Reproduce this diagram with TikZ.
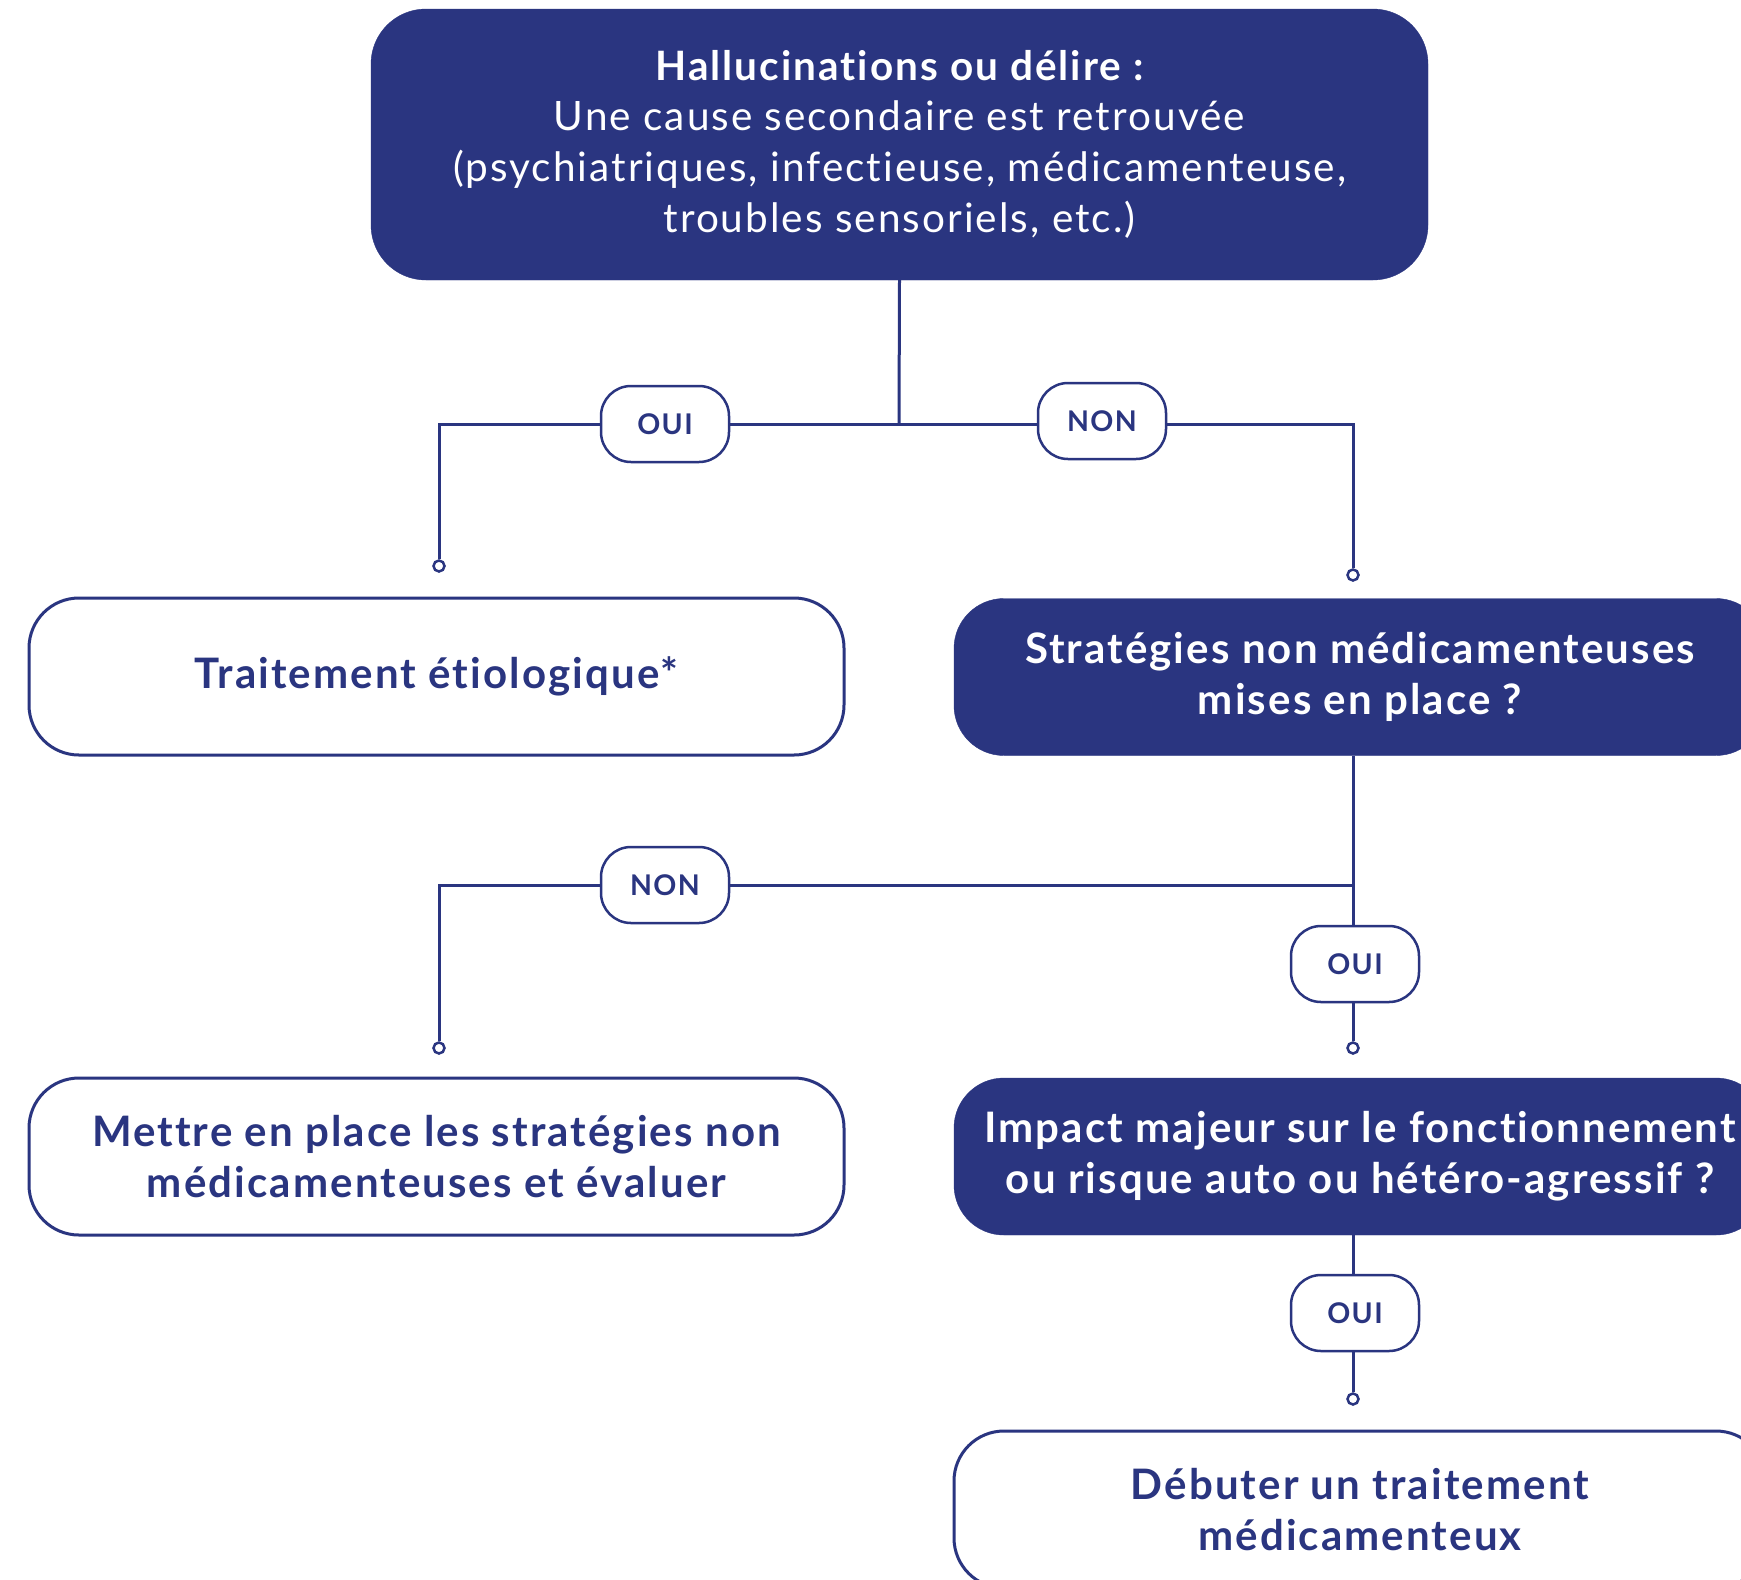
\documentclass[tikz,border=0pt]{standalone}
\usepackage{fontspec}
\setmainfont{Lato}
\newfontfamily\boxfont[LetterSpace=5,Ligatures=NoCommon]{Lato}
\definecolor{navy}{RGB}{42,53,128}
\begin{document}
\begin{tikzpicture}[x=1pt,y=-1pt,
  darkbox/.style={fill=navy,draw=navy,text=white,rounded corners=55pt,inner sep=0pt,align=center,
    font=\boxfont\fontsize{42}{51}\selectfont\bfseries},
  lightbox/.style={fill=white,draw=navy,line width=3pt,text=navy,rounded corners=50pt,inner sep=0pt,align=center,
    minimum width=815pt,minimum height=157pt,font=\boxfont\fontsize{42}{51}\selectfont\bfseries},
  qbox/.style={darkbox,rounded corners=50pt,minimum width=812pt,minimum height=157pt},
  pill/.style={fill=white,draw=navy,line width=2.5pt,text=navy,rounded corners=30pt,inner sep=0pt,
    minimum width=128pt,minimum height=76pt,font=\boxfont\fontsize{28.5}{30}\selectfont\bfseries},
  conn/.style={draw=navy,line width=3pt},
  endpt/.style={circle,draw=navy,fill=white,line width=2.5pt,inner sep=0pt,minimum size=11pt}]
\clip (0,0) rectangle (1741,1580);
\fill[white] (0,0) rectangle (1741,1580);

% main nodes
\node[darkbox,minimum width=1057pt,minimum height=271pt,font=\boxfont\fontsize{40.5}{51}\selectfont\bfseries] (top) at (899.5,144.5)
  {Hallucinations ou délire :\\[-1pt]
   \mdseries Une cause secondaire est retrouvée\\
   \mdseries (psychiatriques, infectieuse, médicamenteuse,\\
   \mdseries troubles sensoriels, etc.)};
\node[lightbox] (trait) at (436.5,676.5) {Traitement étiologique*};
\node[qbox] (strat) at (1360,677) {Stratégies non médicamenteuses\\mises en place ?};
\node[lightbox] (mettre) at (436.5,1156.5) {Mettre en place les stratégies non\\médicamenteuses et évaluer};
\node[qbox] (impact) at (1360,1156.5) {Impact majeur sur le fonctionnement\\ou risque auto ou hétéro-agressif ?};
\node[lightbox,minimum width=812pt] (debut) at (1360,1509.5) {Débuter un traitement\\médicamenteux};

% pills
\node[pill] (oui1) at (665,424) {OUI};
\node[pill] (non1) at (1102,421) {NON};
\node[pill] (non2) at (665,885) {NON};
\node[pill] (oui2) at (1355,964) {OUI};
\node[pill] (oui3) at (1355,1313) {OUI};

% junctions and corners
\coordinate (j1) at (899,424);
\coordinate (k1) at (439,424);
\coordinate (k2) at (1353,424);
\coordinate (s2) at (1353,756);
\coordinate (j2) at (1353,885);
\coordinate (k3) at (439,885);
\coordinate (s3) at (1353,1235);

% end circles
\node[endpt] (c1) at (439,566) {};
\node[endpt] (c2) at (1353,575) {};
\node[endpt] (c3) at (439,1048) {};
\node[endpt] (c4) at (1353,1048) {};
\node[endpt] (c5) at (1353,1399) {};

% connectors
\draw[conn] (top.south) -- (j1);
\draw[conn] (j1) -- (oui1.east);
\draw[conn] (oui1.west) -- (k1) -- (c1.north);
\draw[conn] (j1) -- (non1.west |- j1);
\draw[conn] (non1.east |- j1) -- (k2) -- (c2.north);
\draw[conn] (s2) -- (j2) -- (oui2.north -| j2);
\draw[conn] (j2) -- (non2.east);
\draw[conn] (non2.west) -- (k3) -- (c3.north);
\draw[conn] (oui2.south -| c4) -- (c4.north);
\draw[conn] (s3) -- (oui3.north -| s3);
\draw[conn] (oui3.south -| c5) -- (c5.north);
\end{tikzpicture}
\end{document}
